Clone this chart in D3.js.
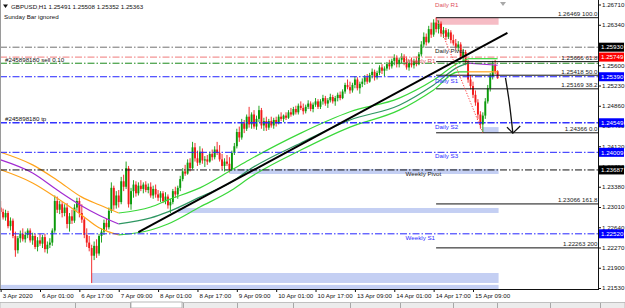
<!DOCTYPE html>
<html><head><meta charset="utf-8">
<script src="https://cdn.jsdelivr.net/npm/d3@7"></script>
<style>
body{margin:0;background:#fff}
svg{display:block}
text{font-family:"Liberation Sans",Arial,sans-serif}
</style>
</head><body>
<svg id="c" width="625" height="308"></svg>
<script>
// ---------------- DATA ----------------
const symbolTitle = "GBPUSD,H1 1.25491 1.25508 1.25352 1.25363";
const subTitle = "Sunday Bar ignored";

const opens = [
1.2300,1.2292,1.2282,1.2290,1.2266,1.2276,1.2248,1.2222,1.2244,1.2252,
1.2242,1.2250,1.2258,1.2240,1.2248,1.2228,1.2240,1.2234,1.2246,1.2224,
1.2232,1.2236,1.2258,1.2312,1.2296,1.2306,1.2290,1.2300,1.2270,1.2284,
1.2276,1.2300,1.2312,1.2290,1.2278,1.2250,1.2236,1.2226,1.2212,1.2230,
1.2216,1.2248,1.2256,1.2272,1.2264,1.2294,1.2336,1.2304,1.2322,1.2310,
1.2348,1.2338,1.2372,1.2306,1.2330,1.2342,1.2326,1.2340,1.2334,1.2342,
1.2332,1.2338,1.2322,1.2334,1.2324,1.2318,1.2326,1.2312,1.2320,1.2304,
1.2310,1.2330,1.2324,1.2336,1.2352,1.2366,1.2362,1.2382,1.2372,1.2410,
1.2390,1.2382,1.2402,1.2386,1.2388,1.2384,1.2398,1.2392,1.2406,1.2400,
1.2388,1.2376,1.2384,1.2380,1.2370,1.2400,1.2412,1.2438,1.2428,1.2454,
1.2444,1.2466,1.2452,1.2470,1.2448,1.2462,1.2478,1.2450,1.2458,1.2446,
1.2458,1.2450,1.2460,1.2454,1.2466,1.2462,1.2468,1.2464,1.2474,1.2470,
1.2480,1.2474,1.2486,1.2482,1.2476,1.2484,1.2490,1.2480,1.2488,1.2494,
1.2484,1.2494,1.2500,1.2490,1.2496,1.2502,1.2494,1.2500,1.2506,1.2500,
1.2512,1.2524,1.2520,1.2514,1.2524,1.2534,1.2518,1.2526,1.2530,1.2538,
1.2530,1.2542,1.2548,1.2538,1.2546,1.2556,1.2550,1.2554,1.2562,1.2558,
1.2568,1.2574,1.2562,1.2570,1.2576,1.2566,1.2556,1.2564,1.2560,1.2568,
1.2562,1.2580,1.2598,1.2612,1.2602,1.2626,1.2616,1.2638,1.2626,1.2636,
1.2618,1.2624,1.2612,1.2620,1.2606,1.2600,1.2592,1.2598,1.2576,1.2584,
1.2566,1.2534,1.2522,1.2506,1.2492,1.2470,1.2452,1.2468,1.2494,1.2518,
1.2540,1.2560,1.25491];
const highs = [
1.2312,1.2298,1.2296,1.2294,1.2282,1.2280,1.2256,1.2248,1.2258,1.2262,
1.2256,1.2262,1.2262,1.2254,1.2252,1.2246,1.2252,1.2250,1.2252,1.2238,
1.2244,1.2262,1.2322,1.2320,1.2312,1.2310,1.2306,1.2308,1.2290,1.2296,
1.2306,1.2318,1.2318,1.2306,1.2282,1.2262,1.2248,1.2232,1.2238,1.2242,
1.2252,1.2262,1.2278,1.2280,1.2300,1.2346,1.2340,1.2330,1.2332,1.2356,
1.2360,1.2384,1.2376,1.2336,1.2350,1.2348,1.2346,1.2350,1.2346,1.2348,
1.2344,1.2346,1.2340,1.2342,1.2332,1.2330,1.2330,1.2328,1.2324,1.2316,
1.2334,1.2338,1.2340,1.2358,1.2372,1.2378,1.2388,1.2390,1.2420,1.2418,
1.2404,1.2412,1.2408,1.2394,1.2396,1.2402,1.2406,1.2412,1.2420,1.2414,
1.2398,1.2390,1.2396,1.2392,1.2404,1.2418,1.2444,1.2448,1.2462,1.2460,
1.2470,1.2484,1.2474,1.2478,1.2468,1.2486,1.2482,1.2464,1.2466,1.2462,
1.2466,1.2464,1.2466,1.2470,1.2474,1.2470,1.2474,1.2478,1.2482,1.2484,
1.2486,1.2490,1.2494,1.2490,1.2488,1.2496,1.2494,1.2492,1.2500,1.2498,
1.2498,1.2506,1.2504,1.2500,1.2508,1.2506,1.2504,1.2510,1.2512,1.2516,
1.2528,1.2534,1.2530,1.2528,1.2540,1.2538,1.2530,1.2536,1.2542,1.2544,
1.2546,1.2554,1.2552,1.2550,1.2560,1.2562,1.2558,1.2566,1.2570,1.2572,
1.2580,1.2578,1.2574,1.2582,1.2580,1.2576,1.2570,1.2574,1.2572,1.2576,
1.2584,1.2604,1.2620,1.2618,1.2632,1.2638,1.2644,1.26469,1.2642,1.2640,
1.2630,1.2628,1.2626,1.2624,1.2616,1.2608,1.2604,1.2602,1.2590,1.2588,
1.2570,1.2542,1.2530,1.2514,1.2498,1.2476,1.2474,1.2500,1.2524,1.2546,
1.2568,1.2570,1.25508];
const lows = [
1.2288,1.2278,1.2276,1.2262,1.2258,1.2244,1.2210,1.2216,1.2236,1.2238,
1.2236,1.2244,1.2236,1.2232,1.2224,1.2220,1.2230,1.2226,1.2218,1.2216,
1.2226,1.2230,1.2254,1.2290,1.2288,1.2282,1.2284,1.2262,1.2256,1.2270,
1.2272,1.2294,1.2282,1.2272,1.2244,1.2228,1.2220,1.2162,1.2204,1.2208,
1.2212,1.2236,1.2250,1.2258,1.2260,1.2290,1.2296,1.2298,1.2300,1.2306,
1.2330,1.2334,1.2300,1.2296,1.2318,1.2320,1.2322,1.2330,1.2326,1.2328,
1.2326,1.2318,1.2316,1.2318,1.2312,1.2310,1.2308,1.2306,1.2298,1.2290,
1.2306,1.2318,1.2316,1.2330,1.2348,1.2358,1.2360,1.2366,1.2370,1.2384,
1.2376,1.2378,1.2380,1.2374,1.2378,1.2382,1.2386,1.2388,1.2396,1.2384,
1.2370,1.2366,1.2376,1.2364,1.2368,1.2396,1.2408,1.2420,1.2424,1.2436,
1.2440,1.2446,1.2444,1.2444,1.2442,1.2456,1.2444,1.2440,1.2440,1.2442,
1.2446,1.2444,1.2448,1.2452,1.2458,1.2456,1.2460,1.2462,1.2466,1.2468,
1.2470,1.2470,1.2478,1.2470,1.2472,1.2480,1.2476,1.2474,1.2484,1.2480,
1.2480,1.2488,1.2486,1.2482,1.2492,1.2490,1.2486,1.2494,1.2496,1.2498,
1.2508,1.2516,1.2508,1.2510,1.2518,1.2514,1.2508,1.2520,1.2524,1.2526,
1.2528,1.2536,1.2532,1.2534,1.2542,1.2544,1.2540,1.2550,1.2552,1.2554,
1.2560,1.2556,1.2556,1.2564,1.2560,1.2552,1.2550,1.2556,1.2554,1.2558,
1.2560,1.2576,1.2592,1.2596,1.2600,1.2610,1.2612,1.2620,1.2618,1.2612,
1.2610,1.2606,1.2608,1.2600,1.2596,1.2588,1.2586,1.2570,1.2566,1.2560,
1.2528,1.2516,1.2500,1.2486,1.2462,1.2444,1.24366,1.2462,1.2490,1.2512,
1.2534,1.2544,1.25352];
const closes = [
1.2292,1.2282,1.2290,1.2266,1.2276,1.2248,1.2222,1.2244,1.2252,1.2242,
1.2250,1.2258,1.2240,1.2248,1.2228,1.2240,1.2234,1.2246,1.2224,1.2232,
1.2236,1.2258,1.2312,1.2296,1.2306,1.2290,1.2300,1.2270,1.2284,1.2276,
1.2300,1.2312,1.2290,1.2278,1.2250,1.2236,1.2226,1.2212,1.2230,1.2216,
1.2248,1.2256,1.2272,1.2264,1.2294,1.2336,1.2304,1.2322,1.2310,1.2348,
1.2338,1.2372,1.2306,1.2330,1.2342,1.2326,1.2340,1.2334,1.2342,1.2332,
1.2338,1.2322,1.2334,1.2324,1.2318,1.2326,1.2312,1.2320,1.2304,1.2310,
1.2330,1.2324,1.2336,1.2352,1.2366,1.2362,1.2382,1.2372,1.2410,1.2390,
1.2382,1.2402,1.2386,1.2388,1.2384,1.2398,1.2392,1.2406,1.2400,1.2388,
1.2376,1.2384,1.2380,1.2370,1.2400,1.2412,1.2438,1.2428,1.2454,1.2444,
1.2466,1.2452,1.2470,1.2448,1.2462,1.2478,1.2450,1.2458,1.2446,1.2458,
1.2450,1.2460,1.2454,1.2466,1.2462,1.2468,1.2464,1.2474,1.2470,1.2480,
1.2474,1.2486,1.2482,1.2476,1.2484,1.2490,1.2480,1.2488,1.2494,1.2484,
1.2494,1.2500,1.2490,1.2496,1.2502,1.2494,1.2500,1.2506,1.2500,1.2512,
1.2524,1.2520,1.2514,1.2524,1.2534,1.2518,1.2526,1.2530,1.2538,1.2530,
1.2542,1.2548,1.2538,1.2546,1.2556,1.2550,1.2554,1.2562,1.2558,1.2568,
1.2574,1.2562,1.2570,1.2576,1.2566,1.2556,1.2564,1.2560,1.2568,1.2562,
1.2580,1.2598,1.2612,1.2602,1.2626,1.2616,1.2638,1.2626,1.2636,1.2618,
1.2624,1.2612,1.2620,1.2606,1.2600,1.2592,1.2598,1.2576,1.2584,1.2566,
1.2534,1.2522,1.2506,1.2492,1.2470,1.2452,1.2468,1.2494,1.2518,1.2540,
1.2560,1.2549,1.25363];

// x-axis tick labels (every 16 hourly bars)
const dateTickBars = [0,16,32,48,64,80,96,112,128,144,160,176,192];
const dateLabels = ["3 Apr 2020","6 Apr 01:00","6 Apr 17:00","7 Apr 09:00","8 Apr 01:00","8 Apr 17:00","9 Apr 09:00","10 Apr 01:00","10 Apr 17:00","13 Apr 09:00","14 Apr 01:00","14 Apr 17:00","15 Apr 09:00"];
// price axis ticks (1.25970 sits fully under the Daily Pivot price box)
const priceTicks = [1.26710,1.26340,1.25600,1.25230,1.24860,1.24490,1.24120,1.23750,1.23380,1.23010,1.22640,1.22270,1.21900,1.21530];

// moving average envelope (sampled at bar indices)
const maBars  = [0,13,23,33,40,48,61,68,81,94,101,122,142,162,176,186,190,202];
const maUpper = [1.2401,1.2378,1.2350,1.2319,1.2305,1.2290,1.2301,1.2314,1.2336,1.2369,1.2387,1.2436,1.2475,1.2500,1.2533,1.2564,1.2572,1.2572];
const maMid   = [1.2387,1.2363,1.2332,1.2303,1.2286,1.2270,1.2281,1.2292,1.2319,1.2347,1.2369,1.2418,1.2460,1.2487,1.2524,1.2557,1.2564,1.2560];
const maLower = [1.2369,1.2345,1.2317,1.2286,1.2263,1.2250,1.2259,1.2270,1.2301,1.2332,1.2354,1.2405,1.2447,1.2478,1.2515,1.2548,1.2548,1.2548];
const maTrend = ["d","d","d","d","d","d","u","u","u","u","u","u","u","u","u","u","u","e"];

// pivot levels
const pivotNames  = ["Daily R1","Daily Pivot","Weekly R1","Daily S1","Daily S2","Daily S3","Weekly Pivot","Weekly S1"];
const pivotValues = [1.26780,1.25930,1.25749,1.25390,1.24549,1.24009,1.23687,1.22520];
const pivotLabelBars = [177,177,165,177,177,177,165,165];

// order lines
const orderNames  = ["#245898180 sell 0.10","#245898180 tp"];
const orderValues = [1.25637,1.24549];

// fibonacci (drawn from the swing high bar to the swing low bar)
const fibBars   = [177,196];
const fibEnds   = [1.26469,1.24366];
const fibPrices = [1.26469,1.25666,1.25418,1.25169,1.24366,1.23066,1.22263];
const fibTexts  = ["100.0","61.8","50.0","38.2","0.0","161.8","200"];

// zones: start bar, end bar, top, bottom, kind
const zoneStart = [177,196,93,72,37,0];
const zoneEnd   = [202.4,202.4,202.4,202.4,202.4,202.4];
const zoneTop   = [1.26469,1.24470,1.23705,1.22992,1.21804,1.21587];
const zoneBot   = [1.26340,1.24366,1.23613,1.22901,1.21622,1.21500];
const zoneKind  = ["supply","demand","demand","demand","demand","demand"];

// trend line
const trendBars   = [56,206];
const trendPrices = [1.2255,1.2619];

// hand-drawn arrow
const arrowBars   = [205.2,206.7,208.2];
const arrowPrices = [1.2537,1.2494,1.2436];
const headBars    = [205.8,208.2,211.2];
const headPrices  = [1.2447,1.2436,1.2449];

// ---------------- DRAW ----------------
const W = 625, H = 308, PR = 598, PB = 289;
const svg = d3.select("#c");
const x = d3.scaleLinear().domain([0,192]).range([0.64,473]);
const y = d3.scaleLinear().domain([1.21530,1.26710]).range([288,4.5]);
const FS = 6.2;

svg.append("rect").attr("width",W).attr("height",H).attr("fill","#fff");
svg.append("defs").append("clipPath").attr("id","clip")
  .append("rect").attr("x",0).attr("y",0).attr("width",PR).attr("height",PB);
const g = svg.append("g").attr("clip-path","url(#clip)");

// zones
g.selectAll(".zone").data(d3.range(zoneStart.length)).join("rect")
  .attr("x",k=>x(zoneStart[k]))
  .attr("width",k=>x(zoneEnd[k])-x(zoneStart[k]))
  .attr("y",k=>y(zoneTop[k]))
  .attr("height",k=>y(zoneBot[k])-y(zoneTop[k]))
  .attr("fill",k=>zoneKind[k]==="supply"?"#f6bcc5":"#c4cff3");

// candles
const bull="#0a9a0a", bear="#f21a1a";
const bars = d3.range(opens.length);
const col = i => closes[i]>=opens[i]?bull:bear;
g.selectAll(".wick").data(bars).join("line")
  .attr("x1",i=>x(i)).attr("x2",i=>x(i))
  .attr("y1",i=>y(highs[i])).attr("y2",i=>y(lows[i]))
  .attr("stroke",col).attr("stroke-width",0.9);
g.selectAll(".body").data(bars).join("rect")
  .attr("x",i=>x(i)-0.95).attr("width",1.9)
  .attr("y",i=>y(Math.max(opens[i],closes[i])))
  .attr("height",i=>Math.max(0.8,Math.abs(y(opens[i])-y(closes[i]))))
  .attr("fill",col);

// MA envelope
const maColors = {
  d:{up:"#ffa31a",mid:"#a22bd2",lo:"#ffa31a"},
  u:{up:"#3ad83a",mid:"#2f9763",lo:"#3ad83a"},
  e:{up:"#3ad83a",mid:"#a22bd2",lo:"#ffa31a"}
};
const maLine = d3.line().x(d=>x(d[0])).y(d=>y(d[1])).curve(d3.curveMonotoneX);
[["up",maUpper],["mid",maMid],["lo",maLower]].forEach(([key,arr])=>{
  let k=0;
  while(k<maBars.length-1){
    const t=maTrend[k+1]; let j=k+1;
    while(j<maBars.length-1 && maTrend[j+1]===t) j++;
    const pts=d3.range(k,j+1).map(m=>[maBars[m],arr[m]]);
    g.append("path").attr("d",maLine(pts)).attr("fill","none")
      .attr("stroke",maColors[t][key]).attr("stroke-width",1.2);
    k=j;
  }
});

// pivot lines
const dash="7,2,1.5,2";
function pivotLineColor(n){ if(n==="Daily Pivot")return "#707070"; if(n.includes("Pivot"))return "#111"; if(n.includes("R"))return "#f07a7a"; return "#2424ff"; }
function pivotTextColor(n){ if(n.includes("Pivot"))return "#222"; if(n.includes("R"))return "#e0505e"; return "#2a2aff"; }
pivotValues.forEach((v,k)=>{
  if(v<=y.domain()[1]){
    g.append("line").attr("x1",0).attr("x2",PR).attr("y1",y(v)).attr("y2",y(v))
      .attr("stroke",pivotLineColor(pivotNames[k])).attr("stroke-width",1).attr("stroke-dasharray",dash);
  }
});
// order lines
orderValues.forEach((v,k)=>{
  g.append("line").attr("x1",0).attr("x2",PR).attr("y1",y(v)).attr("y2",y(v))
    .attr("stroke",k===0?"#1b8a1b":"#2424ff").attr("stroke-width",1).attr("stroke-dasharray",dash);
});

// fib lines
fibPrices.forEach(v=>{
  g.append("line").attr("x1",x(fibBars[0])).attr("x2",PR).attr("y1",y(v)).attr("y2",y(v))
    .attr("stroke","#111").attr("stroke-width",1);
});
g.append("line").attr("x1",x(fibBars[0])).attr("y1",y(fibEnds[0]))
  .attr("x2",x(fibBars[1])).attr("y2",y(fibEnds[1]))
  .attr("stroke","#ff3a3a").attr("stroke-width",1).attr("stroke-dasharray","1.2,1.6");

// trend line
g.append("line").attr("x1",x(trendBars[0])).attr("y1",y(trendPrices[0]))
  .attr("x2",x(trendBars[1])).attr("y2",y(trendPrices[1]))
  .attr("stroke","#000").attr("stroke-width",2);

// arrow
const aLine = d3.line().x(d=>x(d[0])).y(d=>y(d[1])).curve(d3.curveCatmullRom);
g.append("path").attr("d",aLine(arrowBars.map((b,k)=>[b,arrowPrices[k]])))
  .attr("fill","none").attr("stroke","#111").attr("stroke-width",1.3);
g.append("path").attr("d",d3.line().x(d=>x(d[0])).y(d=>y(d[1]))(headBars.map((b,k)=>[b,headPrices[k]])))
  .attr("fill","none").attr("stroke","#111").attr("stroke-width",1.3);

// labels in chart
const tg = svg.append("g").attr("font-size",FS);
pivotNames.forEach((n,k)=>{
  tg.append("text").attr("x",x(pivotLabelBars[k])-1).attr("y",y(pivotValues[k])+6)
    .attr("fill",pivotTextColor(n)).text(n);
});
orderNames.forEach((n,k)=>{
  tg.append("text").attr("x",5).attr("y",y(orderValues[k])-(k===0?1.2:2.2)).attr("fill","#111").text(n);
});
fibPrices.forEach((v,k)=>{
  tg.append("text").attr("x",PR-0.5).attr("y",y(v)-1.6).attr("text-anchor","end")
    .attr("fill","#222").text(v.toFixed(5)+" "+fibTexts[k]);
});

// header
svg.append("path").attr("d","M3,4.5 L8,4.5 L5.5,8 Z").attr("fill","#111");
tg.append("text").attr("x",11).attr("y",8.6).attr("fill","#111").text(symbolTitle);
tg.append("text").attr("x",4).attr("y",18.6).attr("fill","#111").text(subTitle);
// shift marker
svg.append("path").attr("d","M500,2 L506,2 L503,6 Z").attr("fill","#a8a8a8");

// frame
svg.append("line").attr("x1",0.5).attr("x2",0.5).attr("y1",0).attr("y2",PB).attr("stroke","#9a9a9a");

// right price axis
const ya = svg.append("g").attr("transform",`translate(${PR},0)`)
  .call(d3.axisRight(y).tickValues(priceTicks).tickFormat(d3.format(".5f")).tickSize(3).tickPadding(1));
ya.select(".domain").remove();
ya.selectAll("text").attr("font-size",FS).attr("font-family","Liberation Sans, Arial, sans-serif").attr("fill","#111");
ya.selectAll("line").attr("stroke","#111");
svg.append("line").attr("x1",PR+0.5).attr("x2",PR+0.5).attr("y1",0).attr("y2",PB+1).attr("stroke","#111");

// bottom time axis
const xa = svg.append("g").attr("transform",`translate(0,${PB})`)
  .call(d3.axisBottom(x).tickValues(dateTickBars).tickFormat((d,k)=>dateLabels[k]).tickSize(3).tickPadding(2));
xa.select(".domain").remove();
xa.selectAll("text").attr("font-size",FS).attr("font-family","Liberation Sans, Arial, sans-serif")
  .attr("fill","#111").attr("text-anchor","start").attr("dx",1.5);
xa.selectAll("line").attr("stroke","#111");
svg.append("line").attr("x1",0).attr("x2",PR+1).attr("y1",PB+0.5).attr("y2",PB+0.5).attr("stroke","#111");

// price boxes for pivot levels
pivotValues.forEach((v,k)=>{
  if(v>y.domain()[1]) return;
  const n=pivotNames[k];
  const bg = n.includes("Pivot")?"#000":(n.includes("R")?"#ff0000":"#0000ff");
  svg.append("rect").attr("x",PR+1).attr("y",y(v)-4.5).attr("width",W-PR-2).attr("height",9).attr("fill",bg);
  svg.append("text").attr("x",PR+3).attr("y",y(v)+2.2).attr("font-size",FS).attr("fill","#fff").text(v.toFixed(5));
});

// terminal tab strip
svg.append("rect").attr("x",0).attr("y",302.5).attr("width",W).attr("height",6).attr("fill","#ececec").attr("stroke","#b4b4b4").attr("stroke-width",0.8);
[75,130,183,237,293,350,400,453,497,550,600].forEach(t=>{
  svg.append("line").attr("x1",t+0.5).attr("x2",t+0.5).attr("y1",303).attr("y2",308).attr("stroke","#a8a8a8");
});
svg.append("rect").attr("x",131).attr("y",302).attr("width",51).attr("height",6).attr("fill","#fff").attr("stroke","#a8a8a8").attr("stroke-width",0.8);
</script>
</body></html>
